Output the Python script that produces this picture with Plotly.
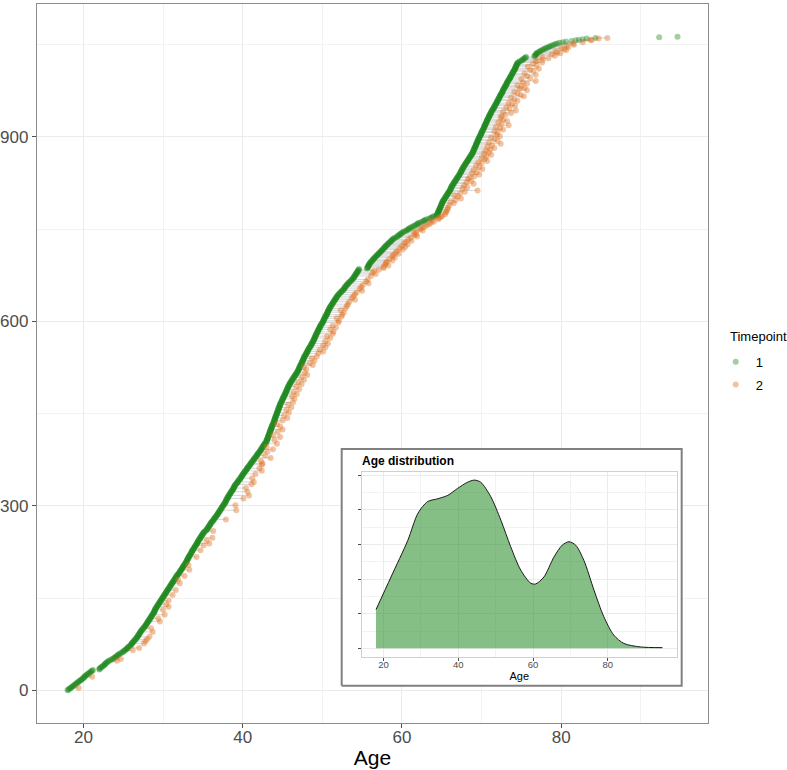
import plotly.graph_objects as go

# age at timepoint 1, grouped by whole year: one digit per subject = tenths of the age
t1_year = [18, 19, 20, 21, 22, 23, 24, 25, 26, 27, 28, 29, 30, 31, 32, 33, 34, 35, 36, 37,
           38, 39, 40, 41, 42, 43, 44, 45, 46, 47, 48, 49, 50, 51, 52, 53, 54, 55, 56, 57,
           58, 59, 60, 61, 62, 63, 64, 65, 66, 67, 68, 69, 70, 71, 72, 73, 74, 75, 76, 77,
           78, 79, 80, 81, 82, 83, 84, 92, 94]
t1_tenths = [
    "0123456789", "0123456789", "01123456789", "012", "001234567789", "01245789",
    "012345689", "01234556789", "00112334556778899", "001122334556778899",
    "001122334455667788999", "000112233445566778899", "00112233445566778899",
    "0011223344556677889", "00112233445566778899", "00011222334455666778899",
    "001122333445566778899", "00112345566778899", "001123344556778899",
    "001122334455667788999", "0011122334455667788999", "001123344556778899",
    "001122344556677899", "001123344556778899", "011223344556677889",
    "0000111222233344445556666777889999", "0000111122233334445555666777788999",
    "0001112233344455566677788999", "00112233445566778899", "000111222334445556667778899",
    "000112223344556667788999", "00011122233444555667778899", "00111222334445566677788999",
    "00112233445566778899", "011234456778899", "01123345677899", "00112233445566",
    "677788999", "01123345567889", "01123445677899", "012234567789", "013456789",
    "01346789", "0235689", "0135789", "14679", "0344555666777888999",
    "0001112233445566778899", "0011122233445566778899", "0011223344455666778899",
    "001122334455667788999", "00011122233344455566677788999", "0001112233344455566677788999",
    "000112223344556667788999", "001112233344556667778899", "000112223344556667788999",
    "001122233344455678", "0123456", "678899", "0234679", "024579", "1358", "26", "38",
    "27", "2", "3", "3", "6",
]
# years between the two visits, in half-years, same order as above ("." = no second visit)
t2_gap = [
    "....2.....", "..........", "..2........", "...", "............", "..2..2..",
    ".........", "..2...3....", "..3...3..3...3...", "....3.....2.......",
    "...3....2.....3......", ".2....3...2.....2....", "....2.......2.......",
    "...2.....1.....2...", "......2.......1.....", ".......2..........2....",
    "...2..3....2...3.....", ".....2...........", ".......3..........",
    "....4.......3........", "..4....5.....4.....3..", "...4...4.....3....",
    "..3....4...3.....3", ".3...2....4...2...", "..2...3...1....3..",
    "...2....3..1....2...3....2...1....", ".2...3...2....3...2...3....2..3...",
    "..3...2...3..2....3...2...3.", ".2...3...2...3..2...", "..2...1..3..2...3...2..3...",
    ".3..4..3...4..3..4...3..", "..4..3...4..4...3..4..3...", ".4..4...3..4..4...4..3..4.",
    "..4..4...4..5..4..4.", ".4..4..5..4..4.", ".4..5..4..4...", "..4..5.4..4.5.",
    ".4.4.5.4.", "4.4.5.4..5.4.4", ".5.4.4..5.4.5.", "4.5.4.4.5.4.", ".4.5.4.4.",
    "3.3.4.3.", "3.3.3.3", ".3.3.2.", "3.2.2", "2..2..2.2..2..2..2.",
    "..3.2..3..4..3.2..3..4", ".7..3.4..3..5.3..4.3..", "3.4..5.3.4..3.5..4.3..",
    ".4.3.5..4.3.4..5.3.4.", "3..4.5.3..4.6.3..5.4..3.5.4..", ".4.3..5.4.3..6.4..3.5.4..3..",
    "3.4..5.3.6..4.3..5.4.3..", ".5.4..3.6.5..4.3..6.4.5.", "4.3..5.4.7..3.5..4.6.3..",
    ".5.4.6..3.5.4..6.4", "4.5.6.4", ".5.4.6", "5.4.6.5", "4.5.4.", "5.4.", "5.", ".4",
    "3.", "3", "3", ".", ".",
]

# inset: age density
dens_age = [18.0, 22.0, 26.5, 29.2, 31.8, 34.5, 37.2, 39.8, 42.5, 44.3, 46.0, 48.7, 51.4,
            54.0, 56.7, 59.4, 60.7, 62.9, 65.6, 67.8, 69.6, 71.4, 73.6, 76.3, 78.9, 81.6,
            84.3, 88.7, 94.6]
dens_val = [0.0056, 0.0103, 0.0156, 0.0195, 0.0212, 0.0216, 0.0221, 0.0231, 0.0240,
            0.0243, 0.0240, 0.0219, 0.0185, 0.0147, 0.0113, 0.0094, 0.0093, 0.0103,
            0.0132, 0.0149, 0.0154, 0.0149, 0.0127, 0.0084, 0.0046, 0.0019, 0.0007,
            0.0002, 0.0001]

# build subjects: rank = position after sorting by age at timepoint 1
age1, rank1, age2, rank2 = [], [], [], []
seg_x, seg_y = [], []
rank = 0
for yr, tenths, gaps in zip(t1_year, t1_tenths, t2_gap):
    assert len(tenths) == len(gaps), (yr, len(tenths), len(gaps))
    for d, g in zip(tenths, gaps):
        a = yr + int(d) / 10
        age1.append(a)
        rank1.append(rank)
        if g != ".":
            b = a + int(g) / 2
            age2.append(b)
            rank2.append(rank)
            seg_x += [a, b, None]
            seg_y += [rank, rank, None]
        rank += 1

n_max = rank - 1
GREEN = "#228B22"
ORANGE = "#E07020"
FONT = "Liberation Sans, Arial, sans-serif"

x_lo, x_hi = 18.0, 94.6
x_pad = (x_hi - x_lo) * 0.05
y_pad = n_max * 0.05
x_range = [x_lo - x_pad, x_hi + x_pad]
y_range = [-y_pad, n_max + y_pad]
d_max = max(dens_val)

# white framed box that holds the inset, placed as fractions of the main panel
bx0, bx1, by0, by1 = 0.4541, 0.9608, 0.0519, 0.3811
box_x = [x_range[0] + f * (x_range[1] - x_range[0]) for f in (bx0, bx1, bx1, bx0, bx0)]
box_y = [y_range[0] + f * (y_range[1] - y_range[0]) for f in (by0, by0, by1, by1, by0)]

fig = go.Figure()

fig.add_trace(go.Scatter(x=box_x, y=box_y, mode="lines", fill="toself", fillcolor="white",
                         line=dict(color="#808080", width=2), showlegend=False,
                         hoverinfo="skip"))
# lines joining both visits of one subject
fig.add_trace(go.Scatter(x=seg_x, y=seg_y, mode="lines", showlegend=False, hoverinfo="skip",
                         line=dict(color="rgba(150,150,150,0.55)", width=0.7)))
fig.add_trace(go.Scatter(x=age1, y=rank1, mode="markers", name="1", legendgroup="1",
                         marker=dict(size=6, color=GREEN, opacity=0.42, line=dict(width=0))))
fig.add_trace(go.Scatter(x=age2, y=rank2, mode="markers", name="2", legendgroup="2",
                         marker=dict(size=6, color=ORANGE, opacity=0.42, line=dict(width=0))))

# inset density (fill without outline + upper line only, like geom_density)
fig.add_trace(go.Scatter(x=dens_age, y=dens_val, xaxis="x2", yaxis="y2", mode="lines",
                         fill="tozeroy", fillcolor="rgba(34,139,34,0.55)", showlegend=False,
                         line=dict(width=0, shape="spline", smoothing=0.8), hoverinfo="skip"))
fig.add_trace(go.Scatter(x=dens_age, y=dens_val, xaxis="x2", yaxis="y2", mode="lines",
                         showlegend=False, hoverinfo="skip",
                         line=dict(color="#1A1A1A", width=1, shape="spline", smoothing=0.8)))

grid = "#EBEBEB"
minor_grid = "#F2F2F2"

fig.update_layout(
    template="none",
    width=787, height=770,
    margin=dict(l=0, r=0, t=0, b=0, autoexpand=False),
    paper_bgcolor="white", plot_bgcolor="white",
    font=dict(family=FONT, color="#4D4D4D"),
    showlegend=True,
    legend=dict(font=dict(size=13, color="black"), x=0.9094, y=0.5497,
                xanchor="left", yanchor="top", itemsizing="trace", tracegroupgap=3,
                bgcolor="rgba(0,0,0,0)"),
    xaxis=dict(domain=[0.0470, 0.8996], range=x_range, automargin=False,
               tickvals=[20, 40, 60, 80], tickfont=dict(size=17, color="#4D4D4D"),
               ticklabelstandoff=-6,
               showgrid=True, gridcolor=grid, gridwidth=1, zeroline=False,
               minor=dict(tickvals=[30, 50, 70, 90], showgrid=True, gridcolor=minor_grid),
               showline=True, mirror=True, linecolor="#8C8C8C", linewidth=1.2,
               ticks="outside", ticklen=4, tickcolor="#4D4D4D",
               title=dict(text="Age", font=dict(size=21, color="black"), standoff=4)),
    yaxis=dict(domain=[0.0610, 0.9948], range=y_range, automargin=False,
               tickvals=[0, 300, 600, 900], tickfont=dict(size=17, color="#4D4D4D"),
               showgrid=True, gridcolor=grid, gridwidth=1, zeroline=False,
               minor=dict(tickvals=[150, 450, 750, 1050], showgrid=True, gridcolor=minor_grid),
               showline=True, mirror=True, linecolor="#8C8C8C", linewidth=1.2,
               ticks="outside", ticklen=4, tickcolor="#4D4D4D"),
    xaxis2=dict(domain=[0.4596, 0.8599], anchor="y2", range=x_range, automargin=False,
                tickvals=[20, 40, 60, 80], tickfont=dict(size=9.5, color="#4D4D4D"),
                ticklabelstandoff=-4,
                showgrid=True, gridcolor=grid, zeroline=False,
                minor=dict(tickvals=[30, 50, 70, 90], showgrid=True, gridcolor=minor_grid),
                showline=True, mirror=True, linecolor="#D0D0D0", linewidth=1,
                ticks="outside", ticklen=3, tickcolor="#4D4D4D",
                title=dict(text="Age", font=dict(size=11, color="black"), standoff=1)),
    yaxis2=dict(domain=[0.1471, 0.3874], anchor="x2", range=[-d_max * 0.05, d_max * 1.05],
                automargin=False,
                tickvals=[0, 0.005, 0.01, 0.015, 0.02, 0.025], showticklabels=False,
                showgrid=True, gridcolor=grid, zeroline=False,
                minor=dict(tickvals=[0.0025, 0.0075, 0.0125, 0.0175, 0.0225], showgrid=True,
                           gridcolor=minor_grid),
                showline=True, mirror=True, linecolor="#D0D0D0", linewidth=1,
                ticks="outside", ticklen=3, tickcolor="#4D4D4D"),
)

fig.add_annotation(text="<b>Age distribution</b>", xref="paper", yref="paper",
                   x=0.4574, y=0.4013, xanchor="left", yanchor="middle",
                   showarrow=False, font=dict(size=12, color="black", family=FONT))
# legend heading
fig.add_annotation(text="Timepoint", xref="paper", yref="paper",
                   x=0.9250, y=0.5627, xanchor="left", yanchor="middle",
                   showarrow=False, font=dict(size=13, color="black", family=FONT))

# drop the default 8px body margin so the 787x770 figure fills the window exactly
fig.write_html("out.html", config={"displayModeBar": False},
               post_script="document.body.style.margin = '0';")
